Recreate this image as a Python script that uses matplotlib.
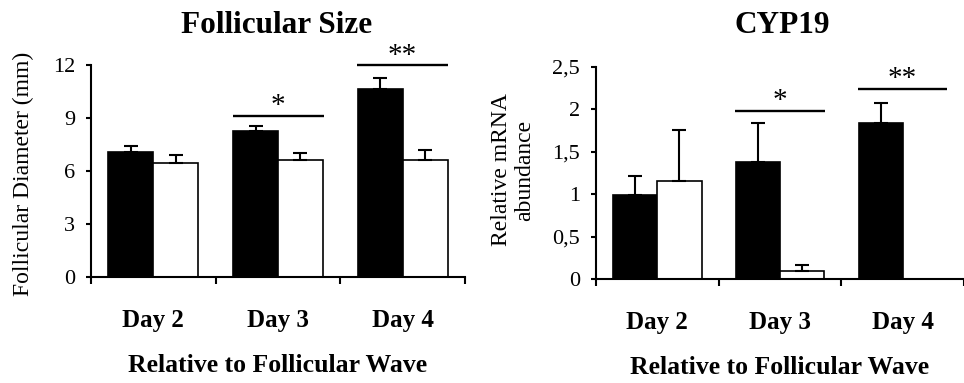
import matplotlib
matplotlib.use("Agg")
import matplotlib.pyplot as plt
import numpy as np

plt.rcParams["font.family"] = ["Liberation Serif", "DejaVu Serif"]

days = ["Day 2", "Day 3", "Day 4"]

# follicular size (mm)
size_black = [7.11, 8.28, 10.64]
size_black_err = [0.32, 0.29, 0.62]
size_white = [6.49, 6.64, 6.64]
size_white_err = [0.41, 0.38, 0.57]
size_ticks = [0, 3, 6, 9, 12]
size_ticklabels = ["0", "3", "6", "9", "12"]

# CYP19 relative mRNA abundance
cyp_black = [0.99, 1.38, 1.84]
cyp_black_err = [0.23, 0.46, 0.23]
cyp_white = [1.15, 0.09, 0.005]
cyp_white_err = [0.61, 0.08, 0.0]
cyp_ticks = [0, 0.5, 1, 1.5, 2, 2.5]
cyp_ticklabels = ["0", "0,5", "1", "1,5", "2", "2,5"]

# significance marks: (day index, line height, label)
size_sig = [(1, 9.13, "*"), (2, 12.0, "**")]
cyp_sig = [(1, 1.98, "*"), (2, 2.24, "**")]

W = 0.36
LW = 1.5


def draw_panel(ax, black, black_err, white, white_err, ticks, ticklabels, ymax, sig, star_off):
    x = np.arange(len(days))
    ax.bar(x - W / 2, black, W, color="black", edgecolor="black", linewidth=1.2)
    ax.bar(x + W / 2, white, W, color="white", edgecolor="black", linewidth=1.2)
    ax.errorbar(x - W / 2, black, yerr=[np.zeros(3), black_err], fmt="none",
                ecolor="black", elinewidth=LW, capsize=5, capthick=LW)
    white_err_arr = np.array(white_err)
    keep = white_err_arr > 0
    ax.errorbar((x + W / 2)[keep], np.array(white)[keep],
                yerr=[np.zeros(keep.sum()), white_err_arr[keep]], fmt="none",
                ecolor="black", elinewidth=LW, capsize=5, capthick=LW)
    for i, yy, lab in sig:
        ax.plot([i - 0.365, i + 0.365], [yy, yy], color="black", lw=1.7,
                solid_capstyle="butt", clip_on=False)
        ax.text(i, yy + star_off, lab, ha="center", va="baseline", fontsize=21,
                clip_on=False)

    ax.set_ylim(0, ymax)
    ax.set_yticks(ticks)
    ax.set_yticklabels(ticklabels, fontsize=16)
    ax.tick_params(axis="y", direction="out", length=3.6, width=LW, pad=8)

    ax.set_xticks([-0.5, 0.5, 1.5, 2.5])
    ax.set_xticklabels([])
    ax.set_xticks(x, minor=True)
    ax.set_xticklabels(days, minor=True, fontsize=18, fontweight="bold")
    ax.tick_params(axis="x", which="major", direction="out", length=5, width=LW)
    ax.tick_params(axis="x", which="minor", length=0, pad=23)
    ax.set_xlabel("Relative to Follicular Wave", fontsize=18.5, fontweight="bold",
                  labelpad=16)

    for s in ["top", "right"]:
        ax.spines[s].set_visible(False)
    for s in ["left", "bottom"]:
        ax.spines[s].set_linewidth(LW)


fig = plt.figure(figsize=(9.64, 3.83), dpi=100)

ax1 = fig.add_axes([0.0944, 0.276, 0.388, 0.5535])
ax1.set_xlim(-0.5, 2.5)
draw_panel(ax1, size_black, size_black_err, size_white, size_white_err,
           size_ticks, size_ticklabels, 12, size_sig, 0.15)

ax2 = fig.add_axes([0.6183, 0.2715, 0.3817, 0.5535])
ax2.set_xlim(-0.5, 2.444)
draw_panel(ax2, cyp_black, cyp_black_err, cyp_white, cyp_white_err,
           cyp_ticks, cyp_ticklabels, 2.5, cyp_sig, 0.04)

fig.text(277 / 964, 1 - 33 / 383, "Follicular Size", ha="center", va="baseline",
         fontsize=22.5, fontweight="bold")
fig.text(782 / 964, 1 - 33 / 383, "CYP19", ha="center", va="baseline",
         fontsize=22.5, fontweight="bold")

fig.text(23 / 964, 1 - 174 / 383, "Follicular Diameter (mm)", rotation=90,
         ha="center", va="center", fontsize=17)
fig.text(513 / 964, 1 - 170 / 383, "Relative mRNA\nabundance", rotation=90,
         ha="center", va="center", multialignment="center", fontsize=17,
         linespacing=1.1)

fig.savefig("out.png", dpi=100)
